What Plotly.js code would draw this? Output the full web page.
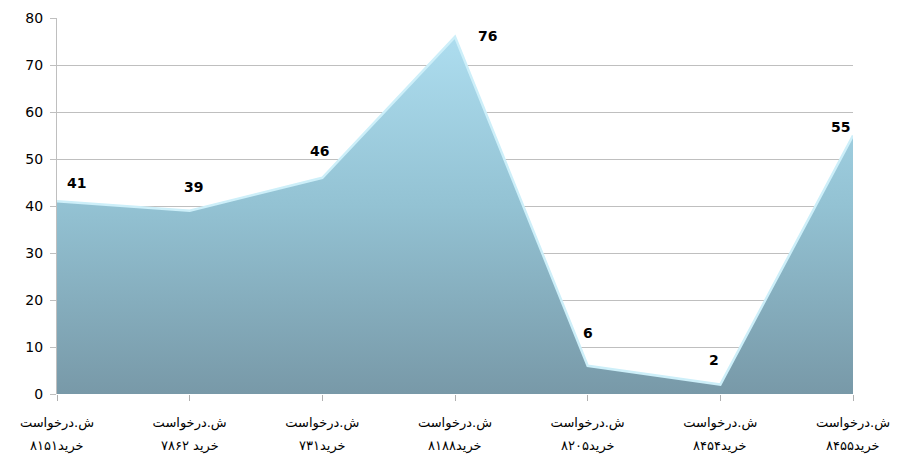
<!DOCTYPE html>
<html>
<head>
<meta charset="utf-8">
<script src="https://cdn.plot.ly/plotly-3.0.1.min.js"></script>
<style>html,body{margin:0;padding:0;background:#fff;}#chart{width:905px;height:457px;}</style>
</head>
<body>
<div id="chart"></div>
<script>
// Data
var labelLine1 = ["ش.درخواست","ش.درخواست","ش.درخواست","ش.درخواست","ش.درخواست","ش.درخواست","ش.درخواست"];
var labelLine2 = ["خرید۸۱۵۱","خرید ۷۸۶۲","خرید۷۳۱","خرید۸۱۸۸","خرید۸۲۰۵","خرید۸۴۵۴","خرید۸۴۵۵"];
var values = [41, 39, 46, 76, 6, 2, 55];
var yTicks = [0, 10, 20, 30, 40, 50, 60, 70, 80];

// Styles (label offsets in px)
var labelDx = [19, 4, -3, 32, 0, -6, -13];
var labelDy = [18, 24, 27, 1, 33, 25, 9];

var idx = values.map(function(_, i){ return i; });

var trace = {
  x: idx, y: values, type: 'scatter', mode: 'lines',
  fill: 'tozeroy',
  fillgradient: {type: 'vertical', start: 0, stop: 80,
    colorscale: [[0, '#7899a8'], [0.5, '#93c2d3'], [1, '#b0e0f2']]},
  line: {color: '#cdeff9', width: 2.5},
  hoverinfo: 'skip'
};

var annotations = [];
values.forEach(function(v, i){
  annotations.push({x: i, y: v, xref: 'x', yref: 'y', text: '<b>' + v + '</b>', showarrow: false,
    xshift: labelDx[i], yshift: labelDy[i], font: {family: 'DejaVu Sans', size: 14, color: '#000'}});
  annotations.push({x: i, y: 0, xref: 'x', yref: 'paper', text: labelLine2[i], showarrow: false,
    yanchor: 'middle', yshift: -52, font: {family: 'DejaVu Sans', size: 13, color: '#000'}});
});

var layout = {
  width: 905, height: 457,
  margin: {l: 57, r: 52, t: 18, b: 63},
  paper_bgcolor: '#fff', plot_bgcolor: '#fff',
  showlegend: false,
  xaxis: {
    range: [0, 6], tickmode: 'array', tickvals: idx, ticktext: labelLine1,
    showgrid: false, zeroline: false, showline: false,
    ticks: 'outside', ticklen: 6, tickcolor: '#b0b0b0',
    tickfont: {family: 'DejaVu Sans', size: 13, color: '#000'},
    ticklabelstandoff: 10, fixedrange: true
  },
  yaxis: {
    range: [0, 80], tickmode: 'array', tickvals: yTicks,
    showgrid: true, gridcolor: '#bfbfbf', gridwidth: 1,
    zeroline: false, showline: true, linecolor: '#bfbfbf', linewidth: 1,
    ticks: 'outside', ticklen: 6, tickcolor: '#bfbfbf',
    tickfont: {family: 'DejaVu Sans', size: 14, color: '#000'},
    ticklabelstandoff: 4, fixedrange: true
  },
  annotations: annotations
};

Plotly.newPlot('chart', [trace], layout, {displayModeBar: false, staticPlot: true});
</script>
</body>
</html>
